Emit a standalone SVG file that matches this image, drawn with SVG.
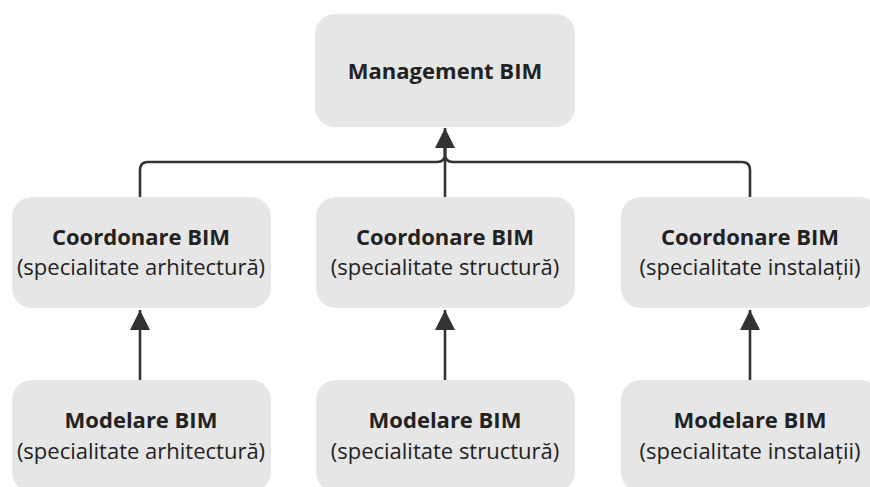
<svg xmlns="http://www.w3.org/2000/svg" width="870" height="487" viewBox="0 0 870 487">
  <style>
    .box { fill: #e6e6e6; }
    .t1 { font-family: "Open Sans", "Noto Sans", sans-serif; font-weight: 700; font-size: 22px; fill: #222; text-anchor: middle; }
    .t2 { font-family: "Open Sans", "Noto Sans", sans-serif; font-weight: 400; font-size: 22px; fill: #222; text-anchor: middle; }
    .edge { fill: none; stroke: #333; stroke-width: 2.6; }
  </style>
  <defs>
    <marker id="arrow" markerUnits="userSpaceOnUse" markerWidth="21" markerHeight="21" refX="20" refY="10" orient="auto" viewBox="0 0 21 21">
      <path d="M0,0 L20,10 L0,20 z" fill="#333"/>
    </marker>
  </defs>
  <rect width="870" height="487" fill="#ffffff"/>

  <g id="connectors">
    <path class="edge" d="M140,197 V170 Q140,162 148,162 H437 Q445,162 445,154 V146"/>
    <path class="edge" d="M750,197 V170 Q750,162 742,162 H453 Q445,162 445,154 V146"/>
    <path class="edge" d="M445,197 V128" marker-end="url(#arrow)"/>
    <path class="edge" d="M140,380 V310" marker-end="url(#arrow)"/>
    <path class="edge" d="M445,380 V310" marker-end="url(#arrow)"/>
    <path class="edge" d="M750,380 V310" marker-end="url(#arrow)"/>
  </g>

  <g id="management">
    <rect class="box" x="315" y="14" width="260" height="113" rx="20"/>
    <text class="t1" x="445" y="79">Management BIM</text>
  </g>

  <g id="coord-arh">
    <rect class="box" x="12" y="197" width="259" height="111" rx="20"/>
    <text class="t1" x="141" y="245">Coordonare BIM</text>
    <text class="t2" x="141" y="275">(specialitate arhitectură)</text>
  </g>
  <g id="coord-str">
    <rect class="box" x="316" y="197" width="259" height="111" rx="20"/>
    <text class="t1" x="445" y="245">Coordonare BIM</text>
    <text class="t2" x="445" y="275">(specialitate structură)</text>
  </g>
  <g id="coord-ins">
    <rect class="box" x="621" y="197" width="259" height="111" rx="20"/>
    <text class="t1" x="750" y="245">Coordonare BIM</text>
    <text class="t2" x="750" y="275">(specialitate instalații)</text>
  </g>

  <g id="model-arh">
    <rect class="box" x="12" y="380" width="259" height="112" rx="20"/>
    <text class="t1" x="141" y="428">Modelare BIM</text>
    <text class="t2" x="141" y="459">(specialitate arhitectură)</text>
  </g>
  <g id="model-str">
    <rect class="box" x="316" y="380" width="259" height="112" rx="20"/>
    <text class="t1" x="445" y="428">Modelare BIM</text>
    <text class="t2" x="445" y="459">(specialitate structură)</text>
  </g>
  <g id="model-ins">
    <rect class="box" x="621" y="380" width="259" height="112" rx="20"/>
    <text class="t1" x="750" y="428">Modelare BIM</text>
    <text class="t2" x="750" y="459">(specialitate instalații)</text>
  </g>
</svg>
